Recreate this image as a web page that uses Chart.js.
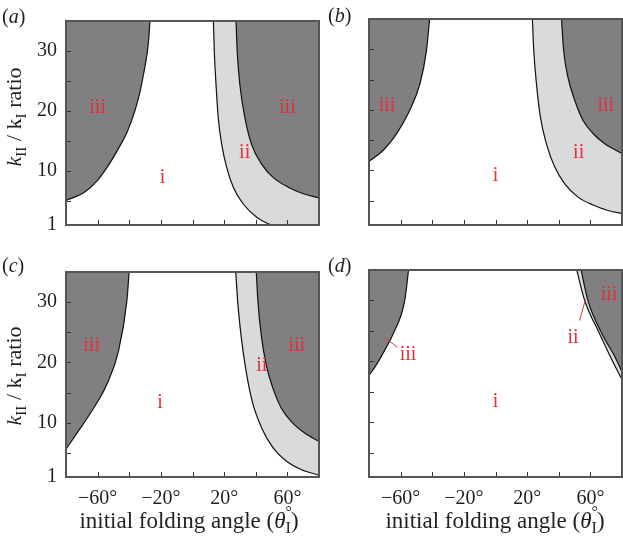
<!DOCTYPE html>
<html>
<head>
<meta charset="utf-8">
<script src="https://cdn.jsdelivr.net/npm/chart.js@4.4.0/dist/chart.umd.min.js"></script>
<style>
  body { margin: 0; width: 623px; height: 543px; position: relative; overflow: hidden; background: #fff;
         font-family: "Liberation Serif", "DejaVu Serif", serif; color: #231f20; }
  canvas { position: absolute; }
  .txt { position: absolute; font-size: 20px; white-space: nowrap; line-height: 1; }
  .ytitle { font-size: 22px; transform: translate(-50%, -50%) rotate(-90deg); }
  .xtitle { font-size: 23px; transform: translateX(-50%); }
  sub { font-size: 70%; vertical-align: -0.3em; }
  .deg { position: relative; display: inline-block; }
  .deg sup { position: absolute; left: 0; top: -0.3em; font-size: 70%; }
</style>
</head>
<body>
<canvas id="pa" width="330" height="250" style="left:0;top:0"></canvas>
<canvas id="pb" width="320" height="250" style="left:303px;top:0"></canvas>
<canvas id="pc" width="330" height="292" style="left:0;top:251px"></canvas>
<canvas id="pd" width="320" height="292" style="left:303px;top:251px"></canvas>

<div class="txt" style="left:2px;top:6px">(<i>a</i>)</div>
<div class="txt" style="left:328px;top:5px">(<i>b</i>)</div>
<div class="txt" style="left:2px;top:255px">(<i>c</i>)</div>
<div class="txt" style="left:328px;top:255px">(<i>d</i>)</div>

<div class="txt ytitle" style="left:16px;top:117px"><i>k</i><sub>II</sub> / k<sub>I</sub> ratio</div>
<div class="txt ytitle" style="left:16px;top:376px"><i>k</i><sub>II</sub> / k<sub>I</sub> ratio</div>
<div class="txt xtitle" style="left:189px;top:509px">initial folding angle (<i>θ</i><span class="deg"><sub>I</sub><sup>°</sup></span>)</div>
<div class="txt xtitle" style="left:495px;top:509px">initial folding angle (<i>θ</i><span class="deg"><sub>I</sub><sup>°</sup></span>)</div>

<script>
// axis ticks
const xTicks = [-60, -40, -20, 0, 20, 40, 60];
const xLabels = [-60, -20, 20, 60];
const yTicks = [5, 10, 15, 20, 25, 30];
const yLabels = [1, 10, 20, 30];

// boundary curves [angle, kII/kI]
// (a)
const aLeft = [[-80, 5.1], [-68.6, 6.4], [-60.2, 8.4], [-52.8, 11.1], [-46.5, 13.9], [-41.2, 16.6], [-36.6, 19.9], [-33.2, 23.2], [-30.7, 26.5], [-28.6, 29.8], [-27.5, 32.6], [-26.9, 35.2]];
const aInner = [[13.2, 35.2], [13.8, 29.8], [14.9, 24.3], [16.3, 18.8], [18.5, 14.4], [21.6, 10.6], [25.8, 7.3], [32.1, 4.5], [40.6, 2.3], [50.1, 0.95], [56, 0.5], [80, 0.5]];
const aOuter = [[27.5, 35.2], [28.3, 29.8], [30, 24.3], [33.2, 18.8], [37.4, 14.4], [43.8, 11.1], [51.1, 8.9], [60.6, 7.3], [70.1, 6.2], [80, 5.5]];
// (b)
const bLeft = [[-80, 11.5], [-71.1, 13.3], [-62.7, 16], [-54.3, 19.9], [-47.9, 24.2], [-43.7, 29.7], [-41.6, 35.2]];
const bInner = [[23.3, 35.2], [24.2, 29.8], [25.9, 24.3], [28.4, 18.8], [32.2, 14.4], [37.4, 10.6], [43.8, 7.8], [52.2, 5.6], [61.7, 4.3], [71.1, 3.4], [80, 2.9]];
const bOuter = [[41.7, 35.2], [43.1, 29.8], [45.8, 25.4], [50.1, 21.6], [55.3, 18.3], [61.7, 16.1], [69.1, 14.4], [80, 12.8]];
// (c)
const cLeft = [[-80, 5.6], [-72.2, 8.6], [-63.8, 11.9], [-54.3, 16.3], [-46.9, 21.8], [-41.6, 30], [-40, 35.2]];
const cInner = [[27.3, 35.2], [28.6, 30], [30.7, 24.5], [33.6, 19], [37.8, 13.5], [43.8, 9.1], [51.1, 5.8], [59.5, 3.6], [69, 2.2], [80, 1.3]];
const cOuter = [[40.3, 35.2], [41.4, 30], [43.5, 24.5], [46.7, 19.5], [50.9, 15.7], [56.2, 12.4], [62.5, 10.2], [70.9, 8.3], [80, 6.9]];
// (d)
const dLeft = [[-80, 17.7], [-76.4, 19], [-70.1, 21.8], [-64.8, 24.5], [-57.4, 30], [-54.9, 35.2]];
const dInner = [[51.2, 35.2], [56.4, 30], [65.9, 24.5], [74.3, 19.9], [80, 17]];
const dOuter = [[54, 35.2], [58.4, 30], [67.4, 24.5], [75.8, 20.6], [80, 18.3]];

// region labels [text, angle, ratio]
const aNotes = [['iii', -60, 20.5], ['iii', 60, 20.5], ['ii', 33, 13], ['i', -19, 8.9]];
const bNotes = [['iii', -68.6, 20.7], ['iii', 69.7, 20.7], ['ii', 52.6, 13], ['i', 0, 9.1]];
const cNotes = [['iii', -63.8, 22.8], ['iii', 65.9, 22.8], ['ii', 43.8, 19.4], ['i', -20.6, 13.3]];
const dNotes = [['iii', 71.8, 30.9], ['ii', 49, 23.9], ['iii', -55.3, 21.1], ['i', 0, 13.3]];
// leader lines in (d): [angle0, ratio0, angle1, ratio1]
const dLeaders = [[-62, 22.3, -70.1, 23.9], [53.2, 26.7, 56.8, 30.1]];

const DARK = '#808083', LIGHT = '#d9dadb', RED = '#e0303a', FRAME = '#555557';
const SERIF = '"Liberation Serif", "DejaVu Serif", serif';

function pts(arr) { return arr.map(p => ({ x: p[0], y: p[1] })); }

const decorPlugin = {
  id: 'decor',
  afterDatasetsDraw(chart, args, opts) {
    const { ctx, chartArea: a, scales: { x, y } } = chart;
    ctx.save();
    // inward tick marks
    ctx.strokeStyle = '#333';
    ctx.lineWidth = 1;
    ctx.beginPath();
    xTicks.forEach(v => {
      const px = Math.round(x.getPixelForValue(v)) + 0.5;
      ctx.moveTo(px, a.bottom); ctx.lineTo(px, a.bottom - 5);
    });
    yTicks.forEach(v => {
      const py = Math.round(y.getPixelForValue(v)) + 0.5;
      ctx.moveTo(a.left, py); ctx.lineTo(a.left + 5, py);
    });
    ctx.stroke();
    // region labels
    ctx.fillStyle = RED;
    ctx.font = '20px ' + SERIF;
    ctx.textAlign = 'center';
    ctx.textBaseline = 'middle';
    (opts.notes || []).forEach(n => {
      ctx.fillText(n[0], x.getPixelForValue(n[1]), y.getPixelForValue(n[2]));
    });
    ctx.strokeStyle = RED;
    ctx.lineWidth = 1;
    (opts.leaders || []).forEach(l => {
      ctx.beginPath();
      ctx.moveTo(x.getPixelForValue(l[0]), y.getPixelForValue(l[1]));
      ctx.lineTo(x.getPixelForValue(l[2]), y.getPixelForValue(l[3]));
      ctx.stroke();
    });
    // frame
    ctx.strokeStyle = FRAME;
    ctx.lineWidth = 2;
    ctx.strokeRect(a.left, a.top, a.right - a.left, a.bottom - a.top);
    ctx.restore();
  }
};

function makePanel(id, left, inner, outer, notes, leaders, showY, showX) {
  const line = (data, fillColor, order) => ({
    data: pts(data), borderColor: '#111', borderWidth: 1.2, pointRadius: 0,
    fill: 'end', backgroundColor: fillColor, cubicInterpolationMode: 'monotone', order
  });
  new Chart(document.getElementById(id), {
    type: 'line',
    data: {
      datasets: [
        line(outer, DARK, 1),
        line(inner, LIGHT, 2),
        line(left, DARK, 1)
      ]
    },
    options: {
      responsive: false,
      animation: false,
      events: [],
      layout: { padding: { top: 19, right: showY ? 11 : 1, left: 0, bottom: 0 } },
      plugins: { legend: { display: false }, tooltip: { enabled: false }, decor: { notes, leaders } },
      scales: {
        x: {
          type: 'linear', min: -80, max: 80,
          grid: { display: false, drawTicks: false }, border: { display: false },
          afterBuildTicks: s => { s.ticks = xLabels.map(v => ({ value: v })); },
          afterFit: s => { s.height = showX ? 66 : 25; },
          ticks: {
            display: showX, padding: 10, color: '#231f20', maxRotation: 0,
            font: { family: SERIF, size: 20 },
            callback: v => (v < 0 ? '\u2212' + Math.abs(v) : v) + '°'
          }
        },
        y: {
          type: 'linear', min: 1, max: 35,
          grid: { display: false, drawTicks: false }, border: { display: false },
          afterBuildTicks: s => { s.ticks = yLabels.map(v => ({ value: v })); },
          afterFit: s => { s.width = 66; },
          ticks: { display: showY, padding: 9, color: '#231f20', font: { family: SERIF, size: 20 } }
        }
      }
    },
    plugins: [decorPlugin]
  });
}

makePanel('pa', aLeft, aInner, aOuter, aNotes, [], true, false);
makePanel('pb', bLeft, bInner, bOuter, bNotes, [], false, false);
makePanel('pc', cLeft, cInner, cOuter, cNotes, [], true, true);
makePanel('pd', dLeft, dInner, dOuter, dNotes, dLeaders, false, true);
</script>
</body>
</html>
